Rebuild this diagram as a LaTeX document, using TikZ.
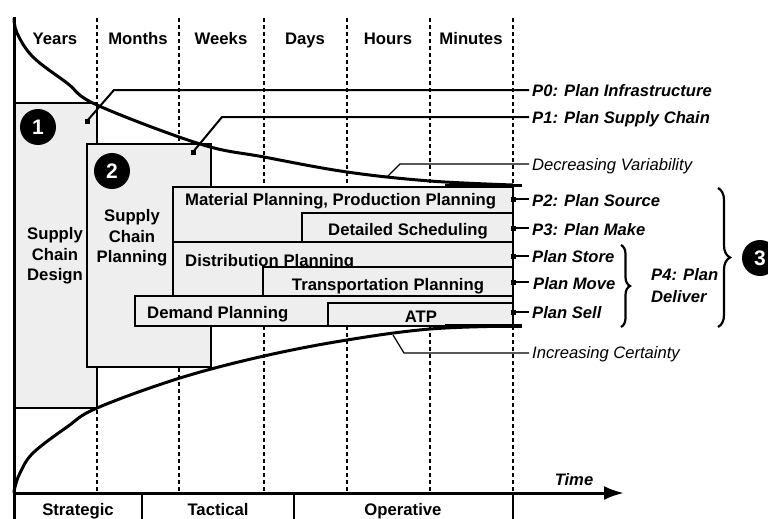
\documentclass[tikz,border=0pt]{standalone}
\usepackage{fontspec}
\setmainfont{Liberation Sans}
\usetikzlibrary{arrows.meta,decorations.pathreplacing}
\definecolor{boxgray}{RGB}{238,238,238}
\begin{document}
\begin{tikzpicture}[x=1pt,y=-1pt,
  lbl/.style={font=\fontsize{16.7}{20.5}\selectfont\bfseries, inner sep=0pt, align=center},
  blbl/.style={font=\fontsize{16.7}{20.5}\selectfont\bfseries, inner sep=0pt, anchor=base},
  rlbl/.style={font=\fontsize{16.6}{20.5}\selectfont\bfseries\itshape, anchor=base west, inner sep=0pt},
  ilbl/.style={font=\fontsize{16.6}{20.5}\selectfont\itshape, anchor=base west, inner sep=0pt},
  boxst/.style={draw, line width=2.5pt, fill=boxgray},
  dashln/.style={line width=2pt, dash pattern=on 4pt off 3pt},
  curvest/.style={line width=3pt},
  leader/.style={line width=2pt},
  thinleader/.style={line width=1.2pt},
  numc/.style={circle, fill=black, minimum size=36pt, inner sep=0pt, text=white, font=\fontsize{21}{21}\selectfont\bfseries},
  dotst/.style={fill=black, minimum size=5pt, inner sep=0pt}
]
\useasboundingbox (0,0) rectangle (768,519);

% dashed column lines
\foreach \xx in {97,179,264,347,430,513}
  \draw[dashln] (\xx,18) -- (\xx,493);

% column labels
\node[blbl] (cy) at (55,45) {Years};
\node[blbl] (cmo) at (138,45) {Months};
\node[blbl] (cw) at (221,45) {Weeks};
\node[blbl] (cd) at (305,45) {Days};
\node[blbl] (ch) at (388,45) {Hours};
\node[blbl] (cmi) at (471,45) {Minutes};

% boxes
\draw[boxst] (14,103) rectangle (97,408);
\node[lbl] (scd) at (55,256) {Supply\\Chain\\Design};
\node[numc] (n1) at (38,127) {1};

\draw[boxst] (87,144) rectangle (211,367);
\node[lbl] (scp) at (132,238) {Supply\\Chain\\Planning};
\node[numc] (n2) at (112,171) {2};

\draw[boxst] (173,187) rectangle (513,242);
\node[blbl, anchor=base west] (mat) at (185,205) {Material Planning, Production Planning};
\draw[boxst] (302,213) rectangle (513,242);
\node[blbl] (det) at (408,235) {Detailed Scheduling};

\draw[boxst] (173,242) rectangle (513,296);
\node[blbl, anchor=base west] (dis) at (185,266) {Distribution Planning};
\draw[boxst] (263,267) rectangle (513,296);
\node[blbl] (tra) at (388,290) {Transportation Planning};

\draw[boxst] (135,296) rectangle (513,326);
\node[blbl, anchor=base west] (dem) at (147,318) {Demand Planning};
\draw[boxst] (328,303) rectangle (513,326);
\node[blbl] (atp) at (421,322) {ATP};

% curves
\draw[curvest] plot[smooth, tension=0.6] coordinates {(14,18) (17,33) (33,57) (67,83) (97,105) (200,144) (264,157) (347,172) (430,181) (513,185)};
\draw[line width=3.5pt] (445,185.5) -- (522,185.5);
\draw[curvest] plot[smooth, tension=0.6] coordinates {(14,493) (15,487) (20,473) (33,453) (67,427) (97,408) (180,378) (264,356) (347,340) (430,329) (513,326)};
\draw[line width=3.5pt] (445,326) -- (522,326);

% axes
\draw[line width=3pt] (14,17) -- (14,519);
\coordinate (t0) at (14,493);
\coordinate (t1) at (624,493);
\draw[line width=3pt, -{Latex[length=20pt,width=14pt]}] (t0) -- (t1);
\node[rlbl, anchor=base] (time) at (574,485) {Time};
\draw[line width=2pt] (142,493) -- (142,519);
\draw[line width=2pt] (294,493) -- (294,519);
\draw[line width=2pt] (513,493) -- (513,519);
\node[blbl] (str) at (78,515) {Strategic};
\node[blbl] (tac) at (218,515) {Tactical};
\node[blbl] (ope) at (403,515) {Operative};

% right labels
\node[rlbl] (p0) at (532,96) {P0: Plan Infrastructure};
\node[rlbl] (p1) at (532,123) {P1: Plan Supply Chain};
\node[ilbl] (dv) at (532,170) {Decreasing Variability};
\node[rlbl] (p2) at (532,206) {P2: Plan Source};
\node[rlbl] (p3) at (532,235) {P3: Plan Make};
\node[rlbl] (pst) at (532,262) {Plan Store};
\node[rlbl] (pmo) at (533,289) {Plan Move};
\node[rlbl] (pse) at (532,318) {Plan Sell};
\node[ilbl] (ic) at (532,358) {Increasing Certainty};
\node[font=\fontsize{16.6}{22}\selectfont\bfseries\itshape, align=left, inner sep=0pt, anchor=west] (p4) at (651,286) {P4: Plan\\Deliver};

% leaders
\node[dotst] (d0) at (87,121) {};
\coordinate (b0) at (114,90);
\coordinate (e0) at (529,90);
\draw[leader] (d0.center) -- (b0) -- (e0);
\node[dotst] (d1) at (193,152) {};
\coordinate (b1) at (222,117);
\coordinate (e1) at (529,117);
\draw[leader] (d1.center) -- (b1) -- (e1);
\coordinate (dva) at (387,177);
\coordinate (dvb) at (400,164);
\coordinate (dve) at (529,164);
\draw[thinleader] (dva) -- (dvb) -- (dve);
\coordinate (ica) at (393,335);
\coordinate (icb) at (404,353);
\coordinate (ice) at (529,353);
\draw[thinleader] (ica) -- (icb) -- (ice);
\foreach \nm/\yy in {p2/199,p3/228,pst/256,pmo/282,pse/312}{
  \node[dotst] (d\nm) at (513,\yy) {};
  \coordinate (e\nm) at (529,\yy);
  \draw[leader] (d\nm.center) -- (e\nm);
}

% braces
\coordinate (sb1) at (621,245);
\coordinate (sb2) at (621,327);
\draw[line width=2.2pt, decorate, decoration={brace, amplitude=9pt}] (sb1) -- (sb2);
\coordinate (bb1) at (718,188);
\coordinate (bb2) at (718,327);
\draw[line width=2.2pt, decorate, decoration={brace, amplitude=12pt}] (bb1) -- (bb2);
\node[numc] (n3) at (760,258) {3};
\end{tikzpicture}
\end{document}
